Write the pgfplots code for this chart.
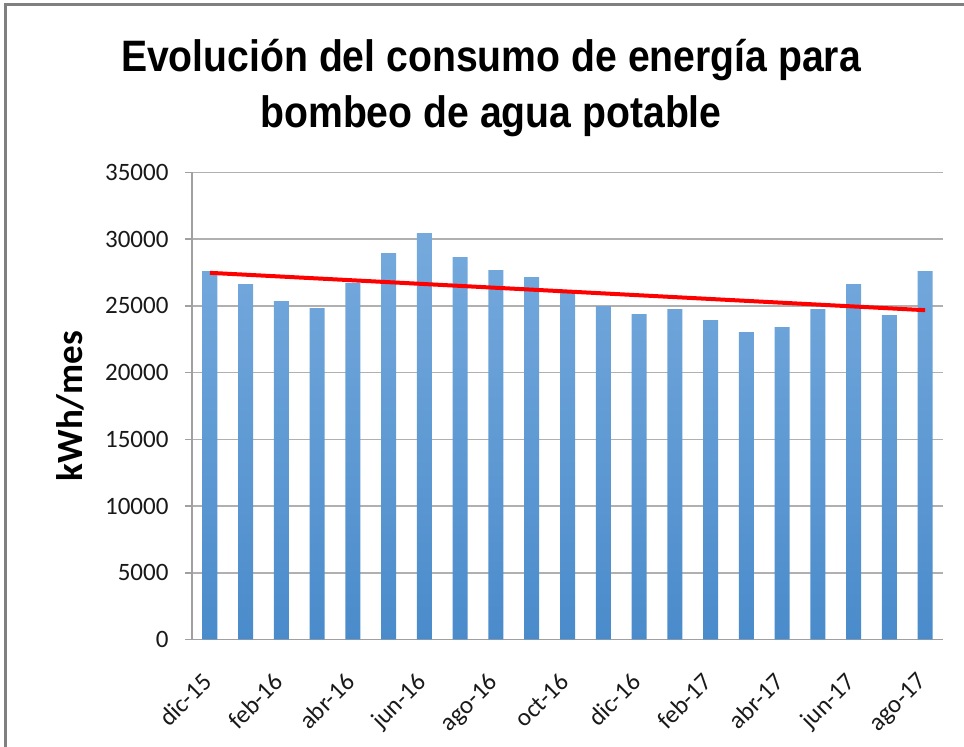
\documentclass[border=0pt]{standalone}
\usepackage{pgfplots}
\pgfplotsset{compat=1.18}
\usepackage{fontspec}
\setmainfont{Carlito}
\newfontfamily\titlefont{Liberation Sans}
\definecolor{bartop}{HTML}{76AADD}
\definecolor{barbot}{HTML}{4A8BCB}
\definecolor{gridgray}{HTML}{B0B0B0}
\definecolor{axgray}{HTML}{A0A0A0}
\definecolor{framegray}{HTML}{808080}
\pgfplotstableread{
x y
0 27600
1 26630
2 25360
3 24830
4 26730
5 28950
6 30450
7 28650
8 27680
9 27150
10 25980
11 24980
12 24380
13 24760
14 23930
15 23040
16 23410
17 24760
18 26630
19 24310
20 27600
}\datatable
\begin{document}
\begin{tikzpicture}[x=1pt,y=1pt]
\useasboundingbox (0,0) rectangle (964,747);
\draw[framegray, line width=3pt] (5,0) -- (5,742) -- (964,742);
\node[anchor=base, inner sep=0pt, font=\titlefont\bfseries\fontsize{44}{44}\selectfont] at (491,675) {\scalebox{0.89}[1]{Evolución del consumo de energía para}};
\node[anchor=base, inner sep=0pt, font=\titlefont\bfseries\fontsize{44}{44}\selectfont] at (491,619) {\scalebox{0.89}[1]{bombeo de agua potable}};
\begin{axis}[
  at={(192pt,107.5pt)}, anchor=south west, scale only axis,
  width=751pt, height=467pt,
  xmin=-0.5, xmax=20.5, ymin=0, ymax=35000,
  ytick={0,5000,...,35000},
  scaled y ticks=false,
  yticklabel style={/pgf/number format/fixed, /pgf/number format/precision=0},
  ymajorgrids, grid style={gridgray, line width=1.5pt},
  axis x line*=bottom, axis y line*=left,
  axis line style={axgray, line width=1.5pt},
  tick style={axgray, line width=1.5pt},
  tick align=outside, major tick length=7pt,
  /pgf/number format/assume math mode=true,
  /pgf/number format/1000 sep={},
  yticklabel style={font=\fontsize{25}{25}\selectfont, text=black!90, xshift=-13pt},
  ylabel={kWh/mes},
  ylabel style={at={(axis description cs:-0.1625,0.5)}, anchor=center, font=\bfseries\fontsize{37}{37}\selectfont},
  xtick={0,2,...,20},
  xticklabels={dic-15,feb-16,abr-16,jun-16,ago-16,oct-16,dic-16,feb-17,abr-17,jun-17,ago-17},
  xtick style={draw=none},
  xticklabel style={font=\fontsize{25}{25}\selectfont, text=black!90, xshift=-9pt, yshift=-20pt, rotate=45, anchor=north east},
  extra x ticks={-0.5,1.5,...,19.5},
  extra x tick labels={},
  extra x tick style={tick style={axgray, line width=1.5pt}, major tick length=8pt},
]
\addplot[ybar, bar width=15pt, draw=none, top color=bartop, bottom color=barbot] table[x=x,y=y] {\datatable};
\addplot[red, line width=4pt, no marks] coordinates {(0,27480) (20,24680)};
\end{axis}
\end{tikzpicture}
\end{document}
